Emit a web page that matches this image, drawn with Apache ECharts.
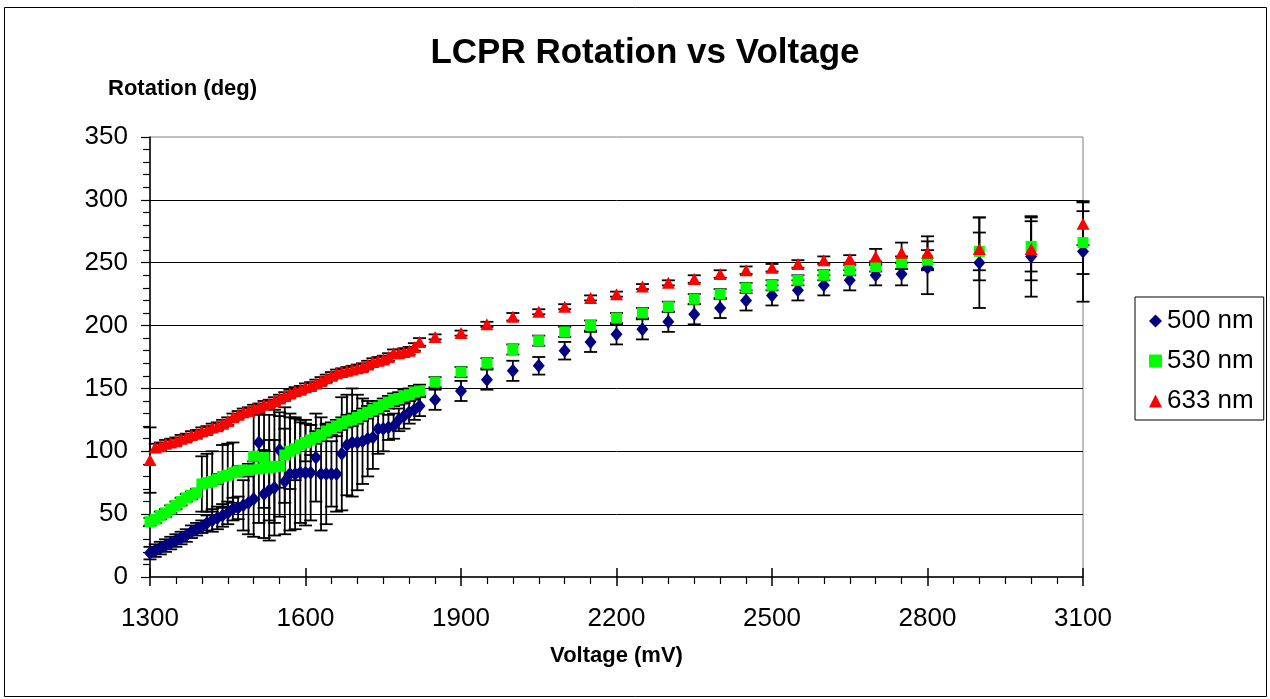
<!DOCTYPE html>
<html>
<head>
<meta charset="utf-8">
<title>LCPR Rotation vs Voltage</title>
<script src="https://cdn.jsdelivr.net/npm/echarts@6/dist/echarts.min.js"></script>
<style>
  html, body { margin: 0; padding: 0; background: #fff; }
  #chart { width: 1270px; height: 699px; }
</style>
</head>
<body>
<div id="chart"></div>
<script>
// Drive voltage (mV) for every measurement
const voltage = [
  1300, 1310, 1320, 1330, 1340, 1350, 1360, 1370, 1380, 1390,
  1400, 1410, 1420, 1430, 1440, 1450, 1460, 1470, 1480, 1490,
  1500, 1510, 1520, 1530, 1540, 1550, 1560, 1570, 1580, 1590,
  1600, 1610, 1620, 1630, 1640, 1650, 1660, 1670, 1680, 1690,
  1700, 1710, 1720, 1730, 1740, 1750, 1760, 1770, 1780, 1790,
  1800, 1810, 1820,
  1850, 1900, 1950, 2000, 2050, 2100, 2150, 2200, 2250, 2300,
  2350, 2400, 2450, 2500, 2550, 2600, 2650, 2700, 2750, 2800,
  2900, 3000, 3100
];

// Rotation (deg) and its uncertainty, 500 nm
const rot500 = [
  19, 21, 23, 25, 27, 29, 31, 33, 36, 38,
  40, 43, 45, 47, 49, 51, 54, 55, 57, 59,
  62, 107, 66, 69, 71, 101, 76, 82, 82, 83,
  83, 83, 95, 82, 82, 82, 82, 98, 105, 107,
  107, 108, 110, 111, 118, 118, 119, 120, 125, 128,
  131, 133, 136,
  141, 148, 157, 164, 168, 180, 187, 193, 197, 203,
  209, 214, 220, 224, 228, 232, 236, 240, 241, 246,
  250, 255, 259
];
const err500 = [
  5, 5, 5, 5, 5, 5, 5, 5, 5, 5,
  5, 6, 9, 9, 9, 9, 9, 9, 20, 25,
  30, 23, 35, 40, 38, 30, 42, 45, 44, 40,
  42, 38, 35, 45, 40, 26, 30, 45, 40, 43,
  38, 34, 30, 25, 20, 18, 10, 10, 9, 10,
  9, 8, 8,
  8, 8, 8, 8, 7, 7, 8, 8, 8, 8,
  8, 8, 8, 8, 8, 8, 8, 8, 9, 21,
  36, 32, 40
];

// Rotation (deg) and its uncertainty, 530 nm
const rot530 = [
  44, 46, 49, 51, 54, 57, 60, 63, 65, 67,
  74, 75, 76, 78, 80, 81, 83, 84, 85, 85,
  96, 86, 95, 87, 88, 88, 97, 100, 102, 105,
  107, 109, 111, 113, 116, 118, 120, 122, 124, 125,
  127, 129, 131, 133, 135, 137, 139, 141, 142, 144,
  145, 147, 148,
  155, 163, 170, 181, 188, 195, 200, 206, 210, 215,
  221, 225, 230, 232, 236, 240, 244, 247, 250, 252,
  259, 263, 266
];
const err530 = [
  3, 3, 3, 3, 3, 3, 3, 3, 3, 3,
  22, 23, 24, 4, 25, 25, 24, 4, 3, 5,
  34, 43, 40, 42, 45, 40, 38, 30, 25, 20,
  15, 12, 5, 5, 5, 5, 5, 5, 5, 5,
  5, 5, 5, 5, 5, 5, 5, 5, 5, 5,
  5, 5, 5,
  4, 4, 4, 4, 4, 4, 4, 4, 4, 4,
  4, 4, 4, 4, 4, 4, 4, 4, 5, 8,
  15, 20, 25
];

// Rotation (deg) and its uncertainty, 633 nm
const rot633 = [
  93, 103, 104, 106, 107, 108, 110, 111, 113, 114,
  116, 117, 119, 120, 122, 124, 127, 129, 131, 132,
  134, 135, 137, 138, 140, 142, 144, 146, 148, 149,
  151, 152, 154, 156, 158, 160, 162, 163, 164, 165,
  166, 167, 169, 171, 172, 173, 175, 178, 178, 179,
  180, 183, 187,
  191, 194, 201, 207, 211, 215, 222, 225, 231, 234,
  237, 241, 244, 246, 249, 252, 253, 255, 258, 258,
  261, 261, 281
];
const err633 = [
  26, 3, 3, 3, 3, 3, 3, 3, 3, 3,
  3, 3, 3, 3, 3, 3, 3, 3, 3, 3,
  3, 3, 3, 3, 3, 3, 3, 3, 3, 3,
  3, 3, 3, 3, 3, 3, 3, 3, 3, 3,
  3, 3, 3, 3, 3, 3, 3, 3, 3, 3,
  3, 3, 3,
  2, 2, 2, 3, 2, 2, 2, 2, 2, 2,
  3, 3, 3, 3, 3, 3, 3, 6, 8, 13,
  25, 25, 17
];

const xTicks = { min: 1300, max: 3100, interval: 300 };
const yTicks = { min: 0, max: 350, interval: 50 };

const FONT = '"Liberation Sans", Arial, Helvetica, sans-serif';

function points(values) {
  return voltage.map((v, i) => [v, values[i]]);
}
function errorRanges(values, errs) {
  return voltage.map((v, i) => [v, values[i] - errs[i], values[i] + errs[i]]);
}

// Vertical error bar with short caps at both ends
function renderErrorBar(params, api) {
  const x = api.value(0);
  const lo = api.coord([x, api.value(1)]);
  const hi = api.coord([x, api.value(2)]);
  const hw = 6.5;
  const style = { stroke: '#000', lineWidth: 1.8 };
  return {
    type: 'group',
    children: [
      { type: 'line', shape: { x1: hi[0], y1: hi[1], x2: lo[0], y2: lo[1] }, style },
      { type: 'line', shape: { x1: hi[0] - hw, y1: hi[1], x2: hi[0] + hw, y2: hi[1] }, style },
      { type: 'line', shape: { x1: lo[0] - hw, y1: lo[1], x2: lo[0] + hw, y2: lo[1] }, style }
    ]
  };
}

function errorSeries(name, values, errs) {
  return {
    name: name + ' error',
    type: 'custom',
    renderItem: renderErrorBar,
    encode: { x: 0, y: [1, 2] },
    data: errorRanges(values, errs),
    silent: true
  };
}

function markerSeries(name, values, symbol, size, color) {
  return {
    name: name,
    type: 'scatter',
    symbol: symbol,
    symbolSize: size,
    itemStyle: { color: color, opacity: 1 },
    data: points(values),
    silent: true
  };
}

const chart = echarts.init(document.getElementById('chart'), null, { renderer: 'canvas' });

chart.setOption({
  animation: false,
  backgroundColor: '#fff',
  title: {
    text: 'LCPR Rotation vs Voltage',
    left: 640,
    textAlign: 'center',
    top: 31,
    textStyle: { fontFamily: FONT, fontSize: 35, fontWeight: 'bold', color: '#000' }
  },
  graphic: [
    {
      type: 'rect',
      shape: { x: 4.5, y: 7.5, width: 1262, height: 689 },
      style: { fill: 'none', stroke: '#000', lineWidth: 1 },
      silent: true
    },
    {
      type: 'text',
      left: 108,
      top: 78,
      style: { text: 'Rotation (deg)', font: 'bold 22px ' + FONT, fill: '#000' },
      silent: true
    }
  ],
  legend: {
    data: ['500 nm', '530 nm', '633 nm'],
    orient: 'vertical',
    left: 1135,
    top: 297,
    padding: [11, 10, 6, 14],
    itemGap: 14,
    itemWidth: 13,
    itemHeight: 13,
    borderColor: '#000',
    borderWidth: 1,
    backgroundColor: '#fff',
    textStyle: { fontFamily: FONT, fontSize: 26, color: '#000', lineHeight: 25 },
    selectedMode: false
  },
  grid: {
    left: 150,
    top: 137,
    right: 187,
    bottom: 122,
    show: true,
    borderColor: '#808080',
    borderWidth: 1,
    backgroundColor: '#fff'
  },
  xAxis: [
    {
      type: 'value',
      min: xTicks.min,
      max: xTicks.max,
      interval: xTicks.interval,
      name: 'Voltage (mV)',
      nameLocation: 'middle',
      nameGap: 68,
      nameTextStyle: { fontFamily: FONT, fontSize: 22, fontWeight: 'bold', color: '#000' },
      axisLine: { show: true, onZero: false, lineStyle: { color: '#000', width: 1.5 } },
      axisTick: { show: true, inside: false, length: 9, lineStyle: { color: '#000', width: 1.5 } },
      minorTick: { show: true, splitNumber: 6, length: 7, lineStyle: { color: '#000', width: 1.2 } },
      axisLabel: {
        fontFamily: FONT, fontSize: 26, color: '#000', margin: 29,
        formatter: (v) => String(v)
      },
      splitLine: { show: false }
    },
    {
      // upward half of the crossing major ticks
      type: 'value',
      min: xTicks.min,
      max: xTicks.max,
      interval: xTicks.interval,
      position: 'bottom',
      offset: 0,
      axisLine: { show: false },
      axisTick: { show: true, inside: true, length: 9, lineStyle: { color: '#000', width: 1.5 } },
      axisLabel: { show: false },
      splitLine: { show: false }
    }
  ],
  yAxis: {
    type: 'value',
    min: yTicks.min,
    max: yTicks.max,
    interval: yTicks.interval,
    axisLine: { show: true, onZero: false, lineStyle: { color: '#000', width: 1.5 } },
    axisTick: { show: true, inside: false, length: 9, lineStyle: { color: '#000', width: 1.2 } },
    minorTick: { show: true, splitNumber: 5, length: 7, lineStyle: { color: '#000', width: 1.2 } },
    axisLabel: { fontFamily: FONT, fontSize: 26, color: '#000', margin: 22 },
    splitLine: { show: true, showMinLine: false, showMaxLine: false, lineStyle: { color: '#000', width: 1 } }
  },
  series: [
    errorSeries('500 nm', rot500, err500),
    markerSeries('500 nm', rot500, 'diamond', [12, 14], '#000080'),
    errorSeries('530 nm', rot530, err530),
    markerSeries('530 nm', rot530, 'rect', [11, 11], '#00FF00'),
    errorSeries('633 nm', rot633, err633),
    markerSeries('633 nm', rot633, 'triangle', [13, 12], '#FF0000')
  ]
});
</script>
</body>
</html>
